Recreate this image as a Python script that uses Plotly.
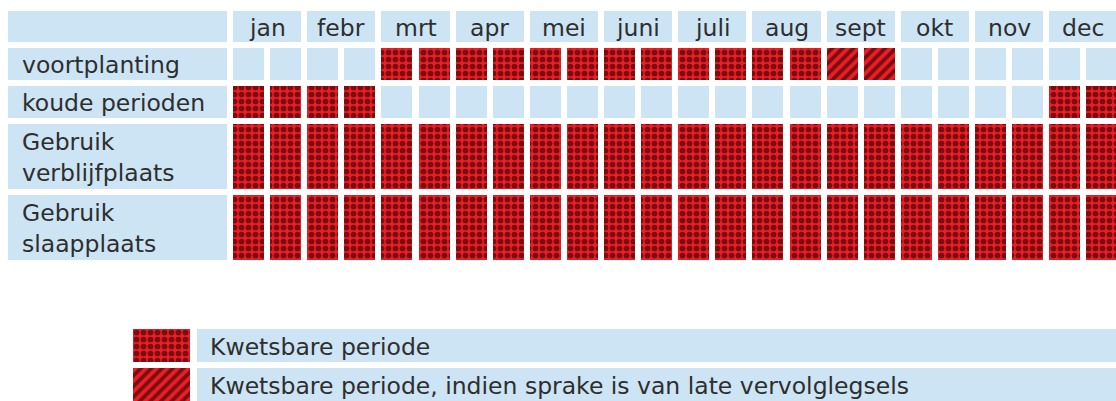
import plotly.graph_objects as go

# ---------------- data ----------------
months = ["jan", "febr", "mrt", "apr", "mei", "juni", "juli", "aug", "sept", "okt", "nov", "dec"]
row_labels = ["voortplanting", "koude perioden", "Gebruik<br>verblijfplaats", "Gebruik<br>slaapplaats"]
# status per half month: 0 = niet kwetsbaar, 1 = kwetsbaar, 2 = kwetsbaar bij late vervolglegsels
voortplanting = [0, 0, 0, 0, 1, 1, 1, 1, 1, 1, 1, 1, 1, 1, 1, 1, 2, 2, 0, 0, 0, 0, 0, 0]
koude_perioden = [1, 1, 1, 1, 0, 0, 0, 0, 0, 0, 0, 0, 0, 0, 0, 0, 0, 0, 0, 0, 0, 0, 1, 1]
gebruik_verblijfplaats = [1, 1, 1, 1, 1, 1, 1, 1, 1, 1, 1, 1, 1, 1, 1, 1, 1, 1, 1, 1, 1, 1, 1, 1]
gebruik_slaapplaats = [1, 1, 1, 1, 1, 1, 1, 1, 1, 1, 1, 1, 1, 1, 1, 1, 1, 1, 1, 1, 1, 1, 1, 1]
row_values = [voortplanting, koude_perioden, gebruik_verblijfplaats, gebruik_slaapplaats]
legend_labels = ["Kwetsbare periode", "Kwetsbare periode, indien sprake is van late vervolglegsels"]
legend_codes = [1, 2]

# ---------------- style / geometry ----------------
W, H = 1116, 401
BLUE = "#cce4f4"
RED = "#ee1c24"
TXT = "#2e2e2e"
FONT = "DejaVu Sans"
FS = 23.5
PITCH = 37.1          # px per half-month
CELL_W = 0.838        # bar width in half-month units
X0_PX = 248.55        # pixel centre of first half-month cell
GAP = 6
HEADER_TOP, HEADER_H = 11, 31
LEG_TOP, LEG_H = 329, 33

def px2u(p):
    return (p - X0_PX) / PITCH

x_range = [px2u(0), px2u(W)]
lab_l, lab_r = px2u(8), px2u(227)
sw_l, sw_r = px2u(133), px2u(190)
lb_l, lb_r = px2u(197), px2u(W) + 3

patterns = {
    1: dict(shape=".", fgcolor="black", bgcolor=RED, size=7, solidity=0.52),
    2: dict(shape="/", fgcolor="black", bgcolor=RED, size=7.5, solidity=0.5),
}

# row geometry
tops, heights = [], []
y = HEADER_TOP + HEADER_H + GAP
for lab in row_labels:
    lines = lab.count("<br>") + 1
    h = 33 * lines - 1
    tops.append(y)
    heights.append(h)
    y += h + GAP

fig = go.Figure()

def add_bars(xs, ws, bases, hs, code):
    if not xs:
        return
    if code == 0:
        marker = dict(color=BLUE, line=dict(width=0))
    else:
        marker = dict(color=RED, line=dict(width=0), pattern=patterns[code])
    fig.add_trace(go.Bar(x=xs, width=ws, base=bases, y=hs, marker=marker,
                         orientation="v", showlegend=False, hoverinfo="skip"))

# header: label column + month headers
hx, hw, hb, hh = [(lab_l + lab_r) / 2], [lab_r - lab_l], [HEADER_TOP], [HEADER_H]
for m, name in enumerate(months):
    hx.append(2 * m + 0.5)
    hw.append(1 + CELL_W)
    hb.append(HEADER_TOP)
    hh.append(HEADER_H)
add_bars(hx, hw, hb, hh, 0)

for m, name in enumerate(months):
    fig.add_annotation(x=2 * m + 0.5, y=HEADER_TOP + HEADER_H / 2 + 1, text=name, showarrow=False,
                       font=dict(family=FONT, size=FS, color=TXT), xanchor="center", yanchor="middle")

# body rows
cells = {0: ([], [], [], []), 1: ([], [], [], []), 2: ([], [], [], [])}
for r, (lab, vals) in enumerate(zip(row_labels, row_values)):
    c = cells[0]
    c[0].append((lab_l + lab_r) / 2); c[1].append(lab_r - lab_l); c[2].append(tops[r]); c[3].append(heights[r])
    for i, v in enumerate(vals):
        c = cells[v]
        c[0].append(i); c[1].append(CELL_W); c[2].append(tops[r]); c[3].append(heights[r])
    fig.add_annotation(x=px2u(20), y=tops[r] + heights[r] / 2 + 1, text=lab, showarrow=False,
                       font=dict(family=FONT, size=FS, color=TXT), xanchor="left", yanchor="middle",
                       align="left")
for code in (0, 1, 2):
    add_bars(*cells[code], code)

# legend
for k, (lab, code) in enumerate(zip(legend_labels, legend_codes)):
    top = LEG_TOP + k * (LEG_H + GAP)
    add_bars([(sw_l + sw_r) / 2], [sw_r - sw_l], [top], [LEG_H], code)
    add_bars([(lb_l + lb_r) / 2], [lb_r - lb_l], [top], [LEG_H], 0)
    fig.add_annotation(x=px2u(208), y=top + LEG_H / 2 + 1, text=lab, showarrow=False,
                       font=dict(family=FONT, size=FS, color=TXT), xanchor="left", yanchor="middle")

fig.update_layout(
    width=W, height=H, margin=dict(l=0, r=0, t=0, b=0),
    paper_bgcolor="white", plot_bgcolor="white",
    barmode="overlay", bargap=0, showlegend=False,
    xaxis=dict(range=x_range, visible=False, fixedrange=True),
    yaxis=dict(range=[H, 0], visible=False, fixedrange=True),
)
fig.write_html(
    "out.html",
    config={"displayModeBar": False},
    post_script="document.body.style.margin='0px';document.body.style.overflow='hidden';",
)
